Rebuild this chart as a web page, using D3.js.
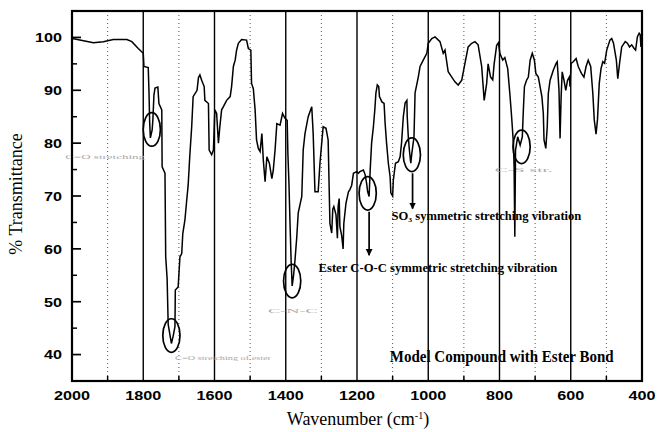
<!DOCTYPE html>
<html>
<head>
<meta charset="utf-8">
<script src="https://cdn.jsdelivr.net/npm/d3@7/dist/d3.min.js"></script>
<style>
body { margin: 0; background: #fff; }
svg { display: block; }
</style>
</head>
<body>
<div id="chart"></div>
<script>
// spectrum: wavenumber (cm-1) and % transmittance
var wavenumber = [1999,1978,1940,1912,1884,1846,1832,1814,1800,1798,1786,1784,1782,1780,1775,1773,1770,1767,1759,1756,
    1748,1747,1739,1737,1733,1730,1721,1716,1711,1710,1702,1697,1692,1689,1683,1678,1674,1669,1664,1660,
    1649,1645,1641,1636,1629,1627,1617,1615,1608,1603,1599,1594,1589,1585,1580,1575,1566,1556,1552,1547,
    1542,1538,1533,1524,1510,1505,1498,1496,1491,1486,1482,1477,1472,1467,1463,1458,1453,1446,1439,1435,
    1430,1425,1416,1409,1402,1396,1394,1391,1388,1385,1382,1378,1374,1369,1365,1355,1351,1346,1337,1327,
    1323,1318,1309,1304,1295,1287,1281,1276,1271,1268,1265,1259,1255,1253,1250,1248,1243,1239,1237,1231,
    1224,1220,1215,1210,1201,1196,1192,1182,1177,1173,1170,1166,1163,1159,1154,1150,1147,1143,1139,1137,
    1130,1124,1121,1117,1112,1107,1105,1100,1098,1092,1084,1079,1075,1070,1065,1060,1059,1056,1053,1049,
    1046,1040,1037,1028,1023,1014,1004,1000,990,981,967,958,953,944,934,925,916,906,897,888,
    878,869,860,850,843,836,832,825,819,815,808,803,799,791,785,777,771,766,761,759,
    757,755,749,742,736,733,730,724,719,714,708,702,698,691,681,677,675,670,666,663,
    658,649,641,638,633,630,627,624,619,614,609,604,602,599,593,585,579,570,563,557,
    551,544,538,534,529,525,520,515,510,505,499,490,485,480,472,468,463,457,447,441,
    435,429,422,418,413,408,405,403];
var transmittance = [99.8,99.5,99.0,99.2,99.6,99.6,99.2,97.9,97.0,94.5,94.3,90.0,84.0,81.0,82.5,84.4,89.1,90.4,90.6,87.5,
    86.3,75.5,74.3,58.5,54.4,45.7,42.1,43.5,45.3,52.2,52.8,58.5,59.1,62.9,65.5,69.2,72.0,78.0,83.1,88.8,
    90.0,92.4,92.9,91.9,90.7,88.1,87.5,78.7,77.8,78.7,86.3,85.6,80.0,83.1,86.3,86.9,88.1,88.8,90.7,94.5,
    95.7,97.6,98.9,99.6,99.5,97.9,97.6,91.3,90.3,86.3,80.6,79.0,78.4,81.8,76.8,72.7,77.4,76.2,73.3,74.9,
    78.7,83.7,83.4,85.6,84.7,84.3,78.0,72.4,64.8,57.9,53.0,55.0,57.9,62.3,66.8,69.9,78.7,81.8,85.0,86.9,
    81.8,70.8,70.8,76.2,83.1,82.8,80.6,64.8,63.0,67.5,68.0,66.5,62.0,68.0,69.5,64.2,62.5,60.0,64.8,68.6,
    70.8,71.2,72.0,74.3,74.6,74.3,74.6,74.9,74.0,72.4,70.8,69.9,74.9,80.0,83.1,86.3,89.4,91.0,90.7,88.8,
    87.8,87.5,83.7,80.0,76.2,73.6,70.6,70.0,73.0,76.2,76.5,77.4,80.0,85.0,87.6,88.1,85.0,81.2,78.7,76.2,
    78.1,81.2,89.5,92.5,94.5,95.7,97.0,98.9,99.8,100.1,99.2,97.0,97.6,93.5,92.5,91.6,91.0,91.9,95.1,98.2,
    98.9,99.2,98.6,94.5,88.1,91.3,95.0,92.5,92.0,95.0,98.5,99.0,97.0,95.7,96.2,94.1,89.4,85.0,80.0,75.5,
    62.3,78.7,81.2,79.6,81.2,86.3,90.7,91.9,92.5,95.7,97.0,95.7,93.2,92.5,88.8,85.6,80.6,79.0,83.1,89.4,
    91.9,93.8,95.1,95.4,90.0,80.9,88.8,93.5,91.9,90.0,91.9,92.5,90.7,95.1,95.4,96.0,94.5,93.2,92.5,94.5,
    95.7,94.5,89.4,84.4,81.7,84.4,91.3,94.1,95.4,95.1,97.6,99.5,99.8,98.9,95.7,92.2,95.1,98.2,99.2,98.9,
    98.2,98.6,97.9,97.6,100.1,100.8,100.5,98.2];

var xTicks = [2000, 1800, 1600, 1400, 1200, 1000, 800, 600, 400];
var yTicks = [40, 50, 60, 70, 80, 90, 100];
var yMinor = [35, 45, 55, 65, 75, 85, 95, 105];
var solidLines = [1800, 1600, 1400, 1200, 1000, 800, 600];
var dottedLines = [1900, 1700, 1500, 1300, 1100, 900, 700, 500];

// circled bands
var circleWn = [1776, 1721, 1382, 1170, 1046, 738];
var circleT = [82.6, 43.6, 53.9, 70.5, 77.8, 79.3];

// arrows under two of the circles
var arrowWn = [1166, 1044];
var arrowFrom = [67.0, 74.3];
var arrowTo = [58.8, 67.6];

var margin = {top: 11, right: 15, bottom: 51, left: 72},
    W = 657, H = 432,
    width = W - margin.left - margin.right,
    height = H - margin.top - margin.bottom;

var x = d3.scaleLinear().domain([2000, 400]).range([0, width]);
var y = d3.scaleLinear().domain([35, 105]).range([height, 0]);

var svg = d3.select("#chart").append("svg")
    .attr("width", W).attr("height", H);

svg.append("defs").append("marker")
    .attr("id", "head")
    .attr("viewBox", "0 0 10 10")
    .attr("refX", 9).attr("refY", 5)
    .attr("markerWidth", 4).attr("markerHeight", 5)
    .attr("orient", "auto")
    .append("path").attr("d", "M0,0L10,5L0,10Z").attr("fill", "#000");

var g = svg.append("g")
    .attr("transform", "translate(" + margin.left + "," + margin.top + ")");

// stretch a text to a given width (the scan is wider than normal fonts)
function fit(sel, w) {
    sel.each(function() {
        var t = d3.select(this);
        var sx = w / this.getComputedTextLength();
        var px = +t.attr("x"), py = +t.attr("y");
        t.attr("transform", "translate(" + px + "," + py + ") scale(" + sx + ",1) translate(" + (-px) + "," + (-py) + ")");
    });
}

// grid lines
g.selectAll(".dot-line").data(dottedLines).enter().append("line")
    .attr("x1", d => x(d)).attr("x2", d => x(d))
    .attr("y1", 0).attr("y2", height)
    .style("stroke", "#555").style("stroke-width", 1)
    .style("stroke-dasharray", "1,3");

g.selectAll(".solid-line").data(solidLines).enter().append("line")
    .attr("x1", d => x(d)).attr("x2", d => x(d))
    .attr("y1", 0).attr("y2", height)
    .style("stroke", "#000").style("stroke-width", 1.4);

// faint, barely legible labels of the scan
var faint = [
    {text: "C=O stretching", wn: 1907, t: 77.0, w: 80},
    {text: "C=O stretching of ester", wn: 1576, t: 39.0, w: 96},
    {text: "C-N-C", wn: 1380, t: 47.8, w: 50},
    {text: "C-S str.", wn: 732, t: 74.5, w: 58}
];
g.selectAll(".faint").data(faint).enter().append("text")
    .attr("x", d => x(d.wn)).attr("y", d => y(d.t))
    .attr("text-anchor", "middle")
    .style("font-family", "Liberation Serif, serif")
    .style("font-size", "7px")
    .style("fill", "#aaa")
    .text(d => d.text)
    .each(function(d) { fit(d3.select(this), d.w); });

// spectrum
var pts = wavenumber.map(function(d, i) { return [d, transmittance[i]]; });
var line = d3.line().x(d => x(d[0])).y(d => y(d[1]));
g.append("path")
    .datum(pts)
    .attr("d", line)
    .style("fill", "none")
    .style("stroke", "#000")
    .style("stroke-width", 1.5);

// circles
g.selectAll(".ring").data(circleWn).enter().append("ellipse")
    .attr("cx", d => x(d)).attr("cy", (d, i) => y(circleT[i]))
    .attr("rx", 8.6).attr("ry", 16.8)
    .style("fill", "none").style("stroke", "#000").style("stroke-width", 1.7);

// arrows
g.selectAll(".arrow").data(arrowWn).enter().append("line")
    .attr("x1", d => x(d)).attr("x2", d => x(d))
    .attr("y1", (d, i) => y(arrowFrom[i])).attr("y2", (d, i) => y(arrowTo[i]))
    .style("stroke", "#000").style("stroke-width", 1.7)
    .attr("marker-end", "url(#head)");

// annotation texts
var so3 = g.append("text")
    .attr("x", x(1103)).attr("y", y(65.5))
    .style("font-family", "Liberation Serif, serif")
    .style("font-weight", "bold").style("font-size", "11.5px");
so3.append("tspan").text("SO");
so3.append("tspan").attr("dy", 2.5).style("font-size", "7px").text("3");
so3.append("tspan").attr("dy", -2.5).text(" symmetric stretching vibration");
fit(so3, 190);

var ester = g.append("text")
    .attr("x", x(1308)).attr("y", y(55.6))
    .style("font-family", "Liberation Serif, serif")
    .style("font-weight", "bold").style("font-size", "11.5px")
    .text("Ester C-O-C symmetric stretching vibration");
fit(ester, 239);

var model = g.append("text")
    .attr("x", x(1108)).attr("y", y(38.6))
    .style("font-family", "Liberation Serif, serif")
    .style("font-weight", "bold").style("font-size", "16px")
    .text("Model Compound with Ester Bond");
fit(model, 224);

// axes: ticks point into the plot
g.selectAll(".ytick").data(yTicks).enter().append("line")
    .attr("x1", 0).attr("x2", 9)
    .attr("y1", d => y(d)).attr("y2", d => y(d))
    .style("stroke", "#000").style("stroke-width", 1.7);
g.selectAll(".yminor").data(yMinor).enter().append("line")
    .attr("x1", 0).attr("x2", 5)
    .attr("y1", d => y(d)).attr("y2", d => y(d))
    .style("stroke", "#000").style("stroke-width", 1.5);
g.selectAll(".xminor").data(dottedLines).enter().append("line")
    .attr("x1", d => x(d)).attr("x2", d => x(d))
    .attr("y1", height).attr("y2", height - 5)
    .style("stroke", "#000").style("stroke-width", 1.5);

g.append("rect")
    .attr("x", 0).attr("y", 0)
    .attr("width", width).attr("height", height)
    .style("fill", "none").style("stroke", "#000").style("stroke-width", 2.2);

g.selectAll(".ylab").data(yTicks).enter().append("text")
    .attr("x", -10).attr("y", d => y(d) + 4.8)
    .attr("text-anchor", "end")
    .style("font-family", "Liberation Sans, Arial, sans-serif")
    .style("font-weight", "bold").style("font-size", "13.2px")
    .text(d => d)
    .each(function(d) { fit(d3.select(this), String(d).length * 9); });

g.selectAll(".xlab").data(xTicks).enter().append("text")
    .attr("x", d => x(d)).attr("y", height + 19.5)
    .attr("text-anchor", "middle")
    .style("font-family", "Liberation Sans, Arial, sans-serif")
    .style("font-weight", "bold").style("font-size", "13.2px")
    .text(d => d)
    .each(function(d) { fit(d3.select(this), String(d).length * 9); });

// axis titles
var xt = svg.append("text")
    .attr("x", margin.left + width / 2 + 1).attr("y", 425)
    .attr("text-anchor", "middle")
    .style("font-family", "Liberation Serif, serif")
    .style("font-size", "18px");
xt.append("tspan").text("Wavenumber (cm");
xt.append("tspan").attr("dy", -6).style("font-size", "10px").text("-1");
xt.append("tspan").attr("dy", 6).text(")");

svg.append("text")
    .attr("transform", "translate(22," + (margin.top + height / 2 - 2) + ") rotate(-90)")
    .attr("text-anchor", "middle")
    .style("font-family", "Liberation Serif, serif")
    .style("font-size", "18px")
    .text("% Transmittance");
</script>
</body>
</html>
